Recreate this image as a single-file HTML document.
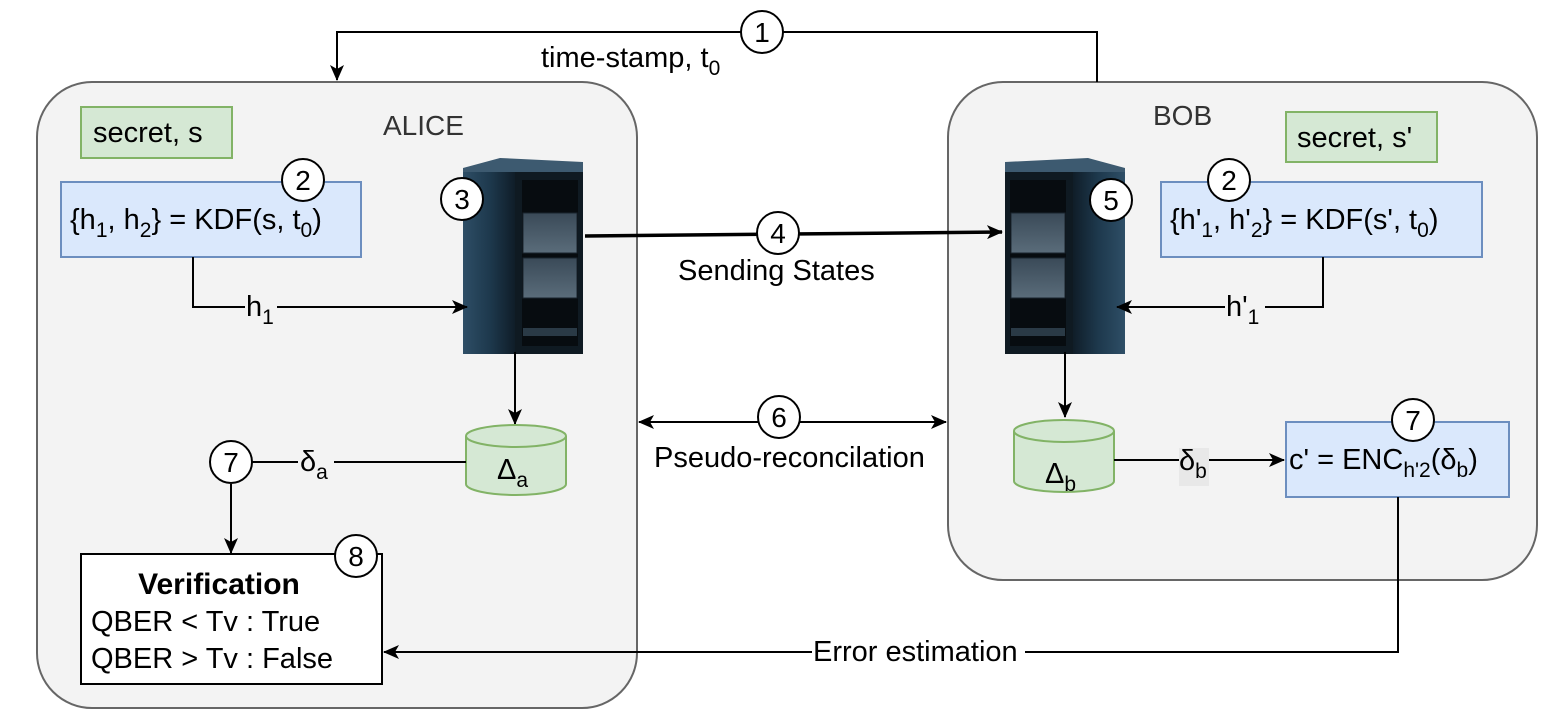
<!DOCTYPE html>
<html><head><meta charset="utf-8"><style>
html,body{margin:0;padding:0;background:#fff;}
svg{display:block;font-family:"Liberation Sans",Arial,sans-serif;}
</style></head><body>
<svg width="1554" height="719" viewBox="0 0 1554 719" xmlns="http://www.w3.org/2000/svg">
<defs>
<marker id="ar" markerWidth="16" markerHeight="14" refX="15" refY="7" orient="auto" markerUnits="userSpaceOnUse">
<path d="M0,0 L16,7 L0,14 L4,7 Z" fill="#000"/></marker>
<marker id="al" markerWidth="16" markerHeight="14" refX="1" refY="7" orient="auto" markerUnits="userSpaceOnUse">
<path d="M16,0 L0,7 L16,14 L12,7 Z" fill="#000"/></marker>
<linearGradient id="side" x1="0" x2="1"><stop offset="0" stop-color="#2e4e66"/><stop offset="0.5" stop-color="#1d384c"/><stop offset="1" stop-color="#0e1a24"/></linearGradient>
<linearGradient id="bay" x1="0" y1="0" x2="0" y2="1"><stop offset="0" stop-color="#3a4a58"/><stop offset="1" stop-color="#5a6c7a"/></linearGradient>
<g id="srv">
<polygon points="3,10 40,0 123,4 123,18 3,18" fill="#3d5a70"/>
<rect x="3" y="14" width="55" height="182" fill="url(#side)"/>
<rect x="55" y="14" width="68" height="182" fill="#0f1a22"/>
<rect x="62" y="22" width="56" height="166" fill="#070c10"/>
<rect x="63" y="55" width="54" height="40" fill="url(#bay)" stroke="#1a252e"/>
<rect x="63" y="100" width="54" height="40" fill="url(#bay)" stroke="#1a252e"/>
<rect x="63" y="170" width="54" height="8" fill="#2a3a46"/>
</g>
</defs>

<rect x="37" y="82" width="600" height="626" rx="55" fill="#f3f3f3" stroke="#666" stroke-width="2"/>
<rect x="948" y="82" width="589" height="498" rx="55" fill="#f3f3f3" stroke="#666" stroke-width="2"/>

<polyline points="1097,82 1097,32 337,32 337,80" fill="none" stroke="#000" stroke-width="2" marker-end="url(#ar)"/>
<text x="541" y="67" font-size="29">time-stamp, t<tspan font-size="21" dy="8">0</tspan></text>

<text x="383" y="135" font-size="28" fill="#333">ALICE</text>
<text x="1153" y="125" font-size="28" fill="#333">BOB</text>

<rect x="81" y="107" width="151" height="51" fill="#d5e8d4" stroke="#82b366" stroke-width="2"/>
<text x="93" y="142" font-size="29">secret, s</text>
<rect x="1286" y="112" width="151" height="50" fill="#d5e8d4" stroke="#82b366" stroke-width="2"/>
<text x="1297" y="147" font-size="29">secret, s'</text>

<rect x="61" y="182" width="300" height="75" fill="#dae8fc" stroke="#6c8ebf" stroke-width="2"/>
<text x="70" y="229" font-size="29">{h<tspan font-size="21" dy="8">1</tspan><tspan dy="-8">, h</tspan><tspan font-size="21" dy="8">2</tspan><tspan dy="-8">} = KDF(s, t</tspan><tspan font-size="21" dy="8">0</tspan><tspan dy="-8">)</tspan></text>
<rect x="1161" y="182" width="321" height="75" fill="#dae8fc" stroke="#6c8ebf" stroke-width="2"/>
<text x="1170" y="229" font-size="29">{h'<tspan font-size="21" dy="8">1</tspan><tspan dy="-8">, h'</tspan><tspan font-size="21" dy="8">2</tspan><tspan dy="-8">}  = KDF(s', t</tspan><tspan font-size="21" dy="8">0</tspan><tspan dy="-8">)</tspan></text>

<use href="#srv" x="460" y="158"/>
<g transform="translate(1128,158) scale(-1,1)"><use href="#srv"/></g>

<polyline points="193,257 193,307 467,307" fill="none" stroke="#000" stroke-width="2" marker-end="url(#ar)"/>
<rect x="245" y="292" width="32" height="32" fill="#f3f3f3"/>
<text x="246" y="316" font-size="29">h<tspan font-size="21" dy="8">1</tspan></text>
<polyline points="1323,257 1323,307 1117,307" fill="none" stroke="#000" stroke-width="2" marker-end="url(#ar)"/>
<rect x="1225" y="292" width="40" height="32" fill="#f3f3f3"/>
<text x="1226" y="316" font-size="29">h'<tspan font-size="21" dy="8">1</tspan></text>

<line x1="585" y1="236" x2="1002" y2="232" stroke="#000" stroke-width="3.5" marker-end="url(#ar)"/>
<text x="678" y="280" font-size="29">Sending States</text>

<line x1="515" y1="352" x2="515" y2="424" stroke="#000" stroke-width="2" marker-end="url(#ar)"/>
<line x1="1065" y1="352" x2="1065" y2="417" stroke="#000" stroke-width="2" marker-end="url(#ar)"/>

<g fill="#d5e8d4" stroke="#82b366" stroke-width="2">
<path d="M466,436 L466,484 A50,11 0 0 0 566,484 L566,436"/>
<ellipse cx="516" cy="436" rx="50" ry="11"/>
<path d="M1014,431 L1014,481 A50,11 0 0 0 1114,481 L1114,431"/>
<ellipse cx="1064" cy="431" rx="50" ry="11"/>
</g>
<text x="497" y="479" font-size="29">Δ<tspan font-size="21" dy="8">a</tspan></text>
<text x="1045" y="483" font-size="29">Δ<tspan font-size="21" dy="8">b</tspan></text>

<line x1="639" y1="422" x2="946" y2="422" stroke="#000" stroke-width="2" marker-start="url(#al)" marker-end="url(#ar)"/>
<text x="654" y="467" font-size="29">Pseudo-reconcilation</text>

<line x1="466" y1="462" x2="252" y2="462" stroke="#000" stroke-width="2"/>
<rect x="298" y="448" width="36" height="32" fill="#f3f3f3"/>
<text x="300" y="471" font-size="29">δ<tspan font-size="21" dy="8">a</tspan></text>
<line x1="231" y1="484" x2="231" y2="553" stroke="#000" stroke-width="2" marker-end="url(#ar)"/>

<rect x="81" y="554" width="301" height="130" fill="#fff" stroke="#000" stroke-width="2"/>
<text x="219" y="594" font-size="30" font-weight="bold" text-anchor="middle">Verification</text>
<text x="91" y="631" font-size="29">QBER &lt; Tv : True</text>
<text x="91" y="668" font-size="29">QBER &gt; Tv : False</text>

<line x1="1114" y1="460" x2="1284" y2="460" stroke="#000" stroke-width="2" marker-end="url(#ar)"/>
<rect x="1179" y="448" width="30" height="38" fill="#e8e8e8"/>
<text x="1179" y="470" font-size="29">δ<tspan font-size="21" dy="8">b</tspan></text>
<rect x="1286" y="422" width="223" height="75" fill="#dae8fc" stroke="#6c8ebf" stroke-width="2"/>
<text x="1289" y="469" font-size="29">c' = ENC<tspan font-size="21" dy="8">h'2</tspan><tspan dy="-8">(δ</tspan><tspan font-size="21" dy="8">b</tspan><tspan dy="-8">)</tspan></text>

<polyline points="1398,497 1398,652 384,652" fill="none" stroke="#000" stroke-width="2" marker-end="url(#ar)"/>
<rect x="812" y="636" width="213" height="32" fill="#fff"/>
<text x="813" y="661" font-size="29">Error estimation</text>

<g fill="#fff" stroke="#000" stroke-width="2">
<circle cx="762" cy="32" r="21"/>
<circle cx="303" cy="180" r="21"/>
<circle cx="1229" cy="180" r="21"/>
<circle cx="462" cy="199" r="21"/>
<circle cx="1111" cy="200" r="21"/>
<circle cx="778" cy="233" r="21"/>
<circle cx="779" cy="417" r="21"/>
<circle cx="231" cy="462" r="21"/>
<circle cx="1413" cy="420" r="21"/>
<circle cx="356" cy="556" r="21"/>
</g>
<g font-size="28" text-anchor="middle">
<text x="762" y="42">1</text>
<text x="303" y="190">2</text>
<text x="1229" y="190">2</text>
<text x="462" y="209">3</text>
<text x="1111" y="210">5</text>
<text x="778" y="243">4</text>
<text x="779" y="427">6</text>
<text x="231" y="472">7</text>
<text x="1413" y="430">7</text>
<text x="356" y="566">8</text>
</g>
</svg>
</body></html>
